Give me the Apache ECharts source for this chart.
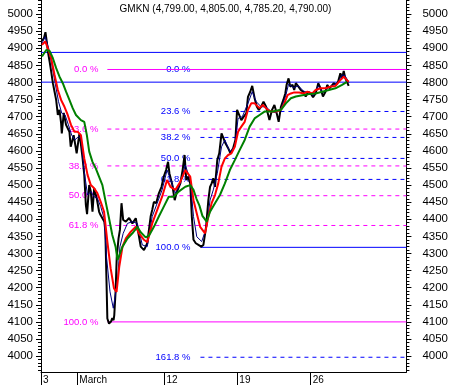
<!DOCTYPE html>
<html><head><meta charset="utf-8">
<script src="https://cdn.jsdelivr.net/npm/echarts@6/dist/echarts.min.js"></script>
<style>html,body{margin:0;padding:0;background:#fff}#c{width:451px;height:385px}</style>
</head><body><div id="c"></div>
<script>
const titleText = 'GMKN (4,799.00, 4,805.00, 4,785.20, 4,790.00)';
// time index of bars (x) and price values
const xTickPos = [0, 36.7, 124.7, 198.3, 272.3];
const xTickLabels = ['3', 'March', '12', '19', '26'];
const yTicks = [4000,4050,4100,4150,4200,4250,4300,4350,4400,4450,4500,4550,4600,4650,4700,4750,4800,4850,4900,4950,5000];

const closeSeries = [[1,4922],[3,4930],[4.5,4947],[6,4915],[7,4890],[8.7,4861],[10.3,4832],[12,4798],[13.7,4773],[15.3,4749],[17,4705],[18.7,4720],[20.3,4681],[21,4651],[23,4711],[25.3,4676],[28.7,4656],[30,4612],[33,4646],[36,4593],[38.7,4649],[40,4627],[42,4578],[43.7,4530],[45.3,4442],[46.5,4415],[48.7,4500],[50.3,4481],[52,4422],[53.7,4491],[56.3,4461],[58.7,4422],[60,4413],[62,4403],[64,4393],[65,4364],[66,4237],[67,4110],[68.7,4095],[70.7,4101],[72,4111],[73.3,4105],[74,4120],[75.3,4188],[76.5,4290],[78.3,4344],[79.7,4369],[81.3,4447],[83,4398],[85.7,4393],[89,4404],[92.3,4388],[95.7,4403],[99,4349],[100.7,4320],[104,4310],[107.3,4330],[110.7,4408],[112.3,4427],[114,4451],[116.3,4447],[119,4476],[121.7,4495],[124,4525],[126.3,4544],[128.3,4568],[129.7,4534],[132.3,4505],[135,4456],[137.3,4481],[140.7,4505],[143,4544],[145,4588],[146.7,4515],[148.3,4525],[150.7,4505],[152.3,4408],[154,4340],[156.3,4330],[159,4325],[161.7,4320],[164,4325],[166.7,4378],[169,4456],[170.7,4495],[172.3,4505],[174,4520],[175.7,4495],[178,4573],[180,4593],[182.3,4651],[184,4656],[186.3,4622],[189,4608],[191.3,4593],[194,4608],[196.3,4632],[198,4720],[200,4725],[202.3,4690],[204.7,4700],[207.3,4710],[209,4758],[211.3,4773],[213.3,4790],[215.7,4754],[218,4729],[220,4720],[222.3,4729],[224.7,4744],[227.3,4729],[230.7,4690],[233.3,4720],[235.7,4734],[238,4710],[240,4685],[242.3,4729],[244.7,4749],[246.7,4768],[248,4793],[250,4812],[251.7,4788],[254,4793],[255.7,4778],[257.3,4798],[260,4788],[262.3,4778],[264.7,4773],[267.3,4759],[270,4773],[272.3,4768],[274.7,4757],[277.3,4768],[280,4798],[282.3,4783],[284.7,4759],[287.3,4773],[289,4793],[291.3,4783],[293.3,4788],[295.7,4798],[298,4793],[300,4802],[302.3,4827],[304,4812],[305.7,4834],[307.3,4812],[309,4802],[310.7,4790]];

const fastMA = [[1,4915],[4.3,4934],[7.7,4900],[11,4851],[14.3,4798],[17.7,4744],[21,4710],[24.3,4705],[27.7,4676],[31,4646],[34.3,4632],[37.7,4642],[40.3,4637],[43.7,4539],[47,4471],[50.3,4481],[53.7,4466],[57,4461],[60.3,4437],[63.7,4403],[66.3,4286],[69.7,4188],[73,4140],[74,4140],[77.3,4222],[79.7,4320],[83,4359],[87.3,4388],[92.3,4393],[97.3,4388],[102.3,4325],[107.3,4320],[112.3,4408],[117.3,4447],[122.3,4486],[127.3,4544],[132.3,4505],[135.7,4476],[140.7,4505],[145.7,4559],[150.7,4515],[154,4408],[157.3,4349],[162.3,4335],[164,4335],[167.3,4378],[170.7,4456],[174,4486],[178,4534],[182.3,4612],[185.7,4632],[190.7,4598],[195.7,4612],[199,4695],[203.3,4700],[209,4739],[213.3,4773],[217.3,4744],[222.3,4729],[227.3,4729],[232.3,4715],[237,4712],[242,4720],[247,4760],[250,4795],[255,4785],[260,4790],[265,4775],[270,4770],[275,4762],[280,4790],[285,4770],[290,4785],[295,4792],[300,4800],[304,4822],[307,4820],[311,4800]];

const midMA = [[1,4910],[4.3,4920],[7,4900],[10.3,4871],[13.7,4822],[17,4778],[20.3,4749],[23.7,4729],[27,4705],[30.3,4676],[33.7,4656],[37,4656],[40.3,4646],[43.7,4578],[47,4530],[50.3,4500],[53.7,4491],[57,4476],[60.3,4451],[63.7,4422],[67,4335],[70.3,4257],[73.7,4198],[76.3,4188],[79,4261],[82.3,4320],[85.7,4344],[90.7,4364],[95.7,4378],[99,4359],[104,4340],[107.3,4333],[112.3,4388],[117.3,4427],[122.3,4466],[127.3,4515],[130.7,4495],[135.7,4486],[140.7,4510],[145.7,4544],[150.7,4525],[154,4456],[157.3,4417],[160.7,4378],[165.7,4359],[169,4408],[172.3,4447],[175.7,4471],[179,4505],[182.3,4554],[185.7,4578],[189,4588],[192.3,4593],[195.7,4612],[199,4656],[202.3,4671],[205.7,4685],[209,4720],[212.3,4739],[215.7,4739],[220.7,4725],[224,4734],[229,4720],[232.3,4715],[237.3,4715],[242.3,4720],[245.7,4739],[249,4763],[252.3,4768],[255.7,4771],[260.7,4771],[265.7,4768],[269,4773],[274,4768],[277.3,4778],[282.3,4783],[287.3,4783],[292.3,4788],[297.3,4790],[302.3,4807],[305.7,4817],[309,4807],[310.7,4802]];

const slowMA = [[1,4876],[5.3,4895],[8.7,4892],[12,4871],[15.3,4842],[18.7,4817],[22,4798],[25.3,4773],[28.7,4749],[32,4725],[35.3,4705],[40.3,4690],[43.7,4685],[46.3,4646],[48.7,4598],[52,4568],[55.3,4549],[58.7,4524],[62,4500],[65.3,4451],[68.7,4403],[72,4354],[75.3,4320],[77.3,4281],[82.3,4320],[87.3,4344],[92.3,4359],[97.3,4378],[100.7,4362],[105.7,4347],[109,4352],[114,4378],[119,4408],[124,4437],[129,4466],[134,4466],[139,4481],[145.7,4495],[150.7,4500],[154,4486],[157,4460],[160,4440],[163,4410],[167.3,4393],[170.7,4422],[175.7,4447],[180.7,4471],[185.7,4505],[190.7,4544],[195.7,4573],[200.7,4603],[205.7,4632],[210.7,4671],[215.7,4695],[220.7,4705],[225.7,4715],[230.7,4715],[234,4715],[242.3,4720],[247.3,4739],[252.3,4754],[257.3,4759],[264,4763],[270.7,4766],[277.3,4768],[284,4773],[290.7,4778],[297.3,4783],[304,4793],[309,4802]];

// horizontal levels
const hLines = [4888, 4801];
const magHigh = 4838, magLow = 4100, magStart = 67;
const blueHigh = 4838, blueLow = 4318, blueStart = 161;
const magLevels = [0, 23.6, 38.2, 50, 61.8, 100];
const blueLevels = [0, 23.6, 38.2, 50, 61.8, 100, 161.8];

const X_MIN = 0, X_MAX = 369;
const Y_MIN = 3953.5, Y_MAX = 5041.2;

const minorTicks = [];
for (let v = 3960; v <= 5040; v += 10) if (v % 50 !== 0) minorTicks.push(v);

const FONT = 'Liberation Sans, Arial, sans-serif';
const BLUE = 'rgb(0,0,255)', MAGENTA = 'rgb(255,0,255)';

function priceLine(name, data, color, width, z) {
  return { name, type: 'line', data, showSymbol: false, z, silent: true, color,
    lineStyle: { color, width }, itemStyle: { color } };
}

const series = [];
hLines.forEach(v => series.push({
  type: 'line', z: 1, silent: true, showSymbol: false, color: BLUE,
  data: [[X_MIN, v], [X_MAX, v]], lineStyle: { color: BLUE, width: 1 }
}));

function fibSeries(high, low, levels, start, color, dist, z) {
  levels.forEach(l => {
    const v = high - (high - low) * l / 100;
    const solid = (l === 0 || l === 100);
    series.push({
      type: 'line', z, silent: true, showSymbol: true, symbolSize: 0, color,
      data: [
        { value: [start, v], label: { show: true, position: 'left', distance: dist,
            formatter: l.toFixed(1) + ' %', color, fontSize: 9.5, fontFamily: FONT } },
        { value: [X_MAX, v], label: { show: false } }
      ],
      lineStyle: { color, width: 1, type: solid ? 'solid' : [4, 4] },
      itemStyle: { color }
    });
  });
}
fibSeries(blueHigh, blueLow, blueLevels, blueStart, BLUE, 10, 1);
fibSeries(magHigh, magLow, magLevels, magStart, MAGENTA, 9, 2);

series.push(priceLine('close', closeSeries, '#000000', 2, 5));
series.push(priceLine('fast', fastMA, '#000080', 1, 6));
series.push(priceLine('mid', midMA, '#ff0000', 2, 7));
series.push(priceLine('slow', slowMA, '#008000', 2, 8));

function yAxisMain(pos, margin) {
  return { type: 'value', position: pos, min: Y_MIN, max: Y_MAX,
    axisLine: { show: true, lineStyle: { color: '#000', width: 1 } },
    axisTick: { show: true, length: 5, customValues: yTicks, lineStyle: { color: '#000' } },
    axisLabel: { show: true, customValues: yTicks, margin, color: '#000', fontSize: 11.5, fontFamily: FONT,
      formatter: v => String(Math.round(v)) },
    splitLine: { show: false } };
}
function yAxisMinor(pos) {
  return { type: 'value', position: pos, min: Y_MIN, max: Y_MAX,
    axisLine: { show: false },
    axisTick: { show: true, length: 3, customValues: minorTicks, lineStyle: { color: '#000' } },
    axisLabel: { show: false }, splitLine: { show: false } };
}

const chart = echarts.init(document.getElementById('c'));
chart.setOption({
  animation: false,
  backgroundColor: '#fff',
  title: { text: titleText, left: 'center', top: -1,
    textStyle: { fontSize: 10, fontWeight: 'normal', color: '#000', fontFamily: FONT } },
  grid: { left: 41, right: 41, top: 0, bottom: 13, containLabel: false },
  xAxis: { type: 'value', min: X_MIN, max: X_MAX,
    axisLine: { show: true, lineStyle: { color: '#000' } },
    axisTick: { show: true, length: 13, customValues: xTickPos, lineStyle: { color: '#000' } },
    axisLabel: { show: true, customValues: xTickPos, showMinLabel: true, align: 'left', margin: 3,
      padding: [0, 0, 0, 2], color: '#000', fontSize: 10, fontFamily: FONT,
      formatter: v => { const i = xTickPos.indexOf(v); return i >= 0 ? xTickLabels[i] : ''; } },
    splitLine: { show: false } },
  yAxis: [yAxisMain('left', 8), yAxisMain('right', 16), yAxisMinor('left'), yAxisMinor('right')],
  series
});
</script></body></html>
